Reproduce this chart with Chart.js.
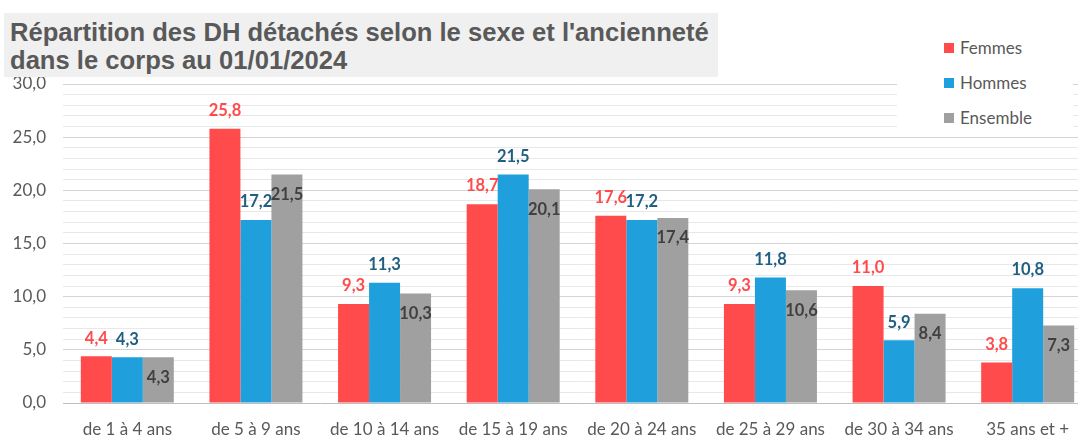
<!DOCTYPE html>
<html lang="fr">

<head>
    <meta charset="UTF-8">
    <title>Répartition des DH détachés</title>
    <script src="https://cdn.jsdelivr.net/npm/chart.js"></script>
    <style>
        body {
            margin: 0;
            overflow: hidden;
            background: #fff;
        }

        .wrap {
            position: relative;
            width: 1092px;
            height: 435px;
        }

        .titre {
            position: absolute;
            left: 4px;
            top: 13px;
            width: 714px;
            height: 64px;
            background: #f0f0f0;
            color: #595959;
            font: bold 25.6px "Liberation Sans", Arial, sans-serif;
            line-height: 28px;
            padding: 5px 0 0 6px;
            box-sizing: border-box;
            white-space: nowrap;
        }

        .legende {
            position: absolute;
            left: 897px;
            top: 20px;
            width: 176px;
            height: 110px;
            background: #fff;
            padding-top: 10px;
            box-sizing: border-box;
        }

        .legende div {
            height: 35px;
            display: flex;
            align-items: center;
            padding-left: 47px;
            color: #595959;
            font: 17px Lato, sans-serif;
        }

        .legende span {
            display: inline-block;
            width: 10px;
            height: 10px;
            margin-right: 6px;
        }
    </style>
</head>

<body>
    <div class="wrap">
        <canvas id="anciennete" width="1092" height="435"></canvas>
        <div class="titre">Répartition des DH détachés selon le sexe et l'ancienneté<br>dans le corps au 01/01/2024</div>
        <div class="legende" id="legende"></div>
    </div>
    <script>
        const categories = ['de 1 à 4 ans', 'de 5 à 9 ans', 'de 10 à 14 ans', 'de 15 à 19 ans',
            'de 20 à 24 ans', 'de 25 à 29 ans', 'de 30 à 34 ans', '35 ans et +'];
        const femmes = [4.4, 25.8, 9.3, 18.7, 17.6, 9.3, 11.0, 3.8];
        const hommes = [4.3, 17.2, 11.3, 21.5, 17.2, 11.8, 5.9, 10.8];
        const ensemble = [4.3, 21.5, 10.3, 20.1, 17.4, 10.6, 8.4, 7.3];
        const seriesNames = ['Femmes', 'Hommes', 'Ensemble'];

        const barColors = ['#ff4b4b', '#1f9fdc', '#a0a0a0'];
        const labelColors = ['#ff4b4b', '#215f82', '#404040'];

        const virgule = v => v.toFixed(1).replace('.', ',');

        // etiquettes de valeurs (pas de plugin datalabels dispo)
        const etiquettes = {
            id: 'etiquettes',
            afterDatasetsDraw(chart) {
                const ctx = chart.ctx;
                ctx.save();
                ctx.font = 'bold 16.5px Lato, sans-serif';
                ctx.textAlign = 'center';
                ctx.textBaseline = 'middle';
                chart.data.datasets.forEach((ds, i) => {
                    const meta = chart.getDatasetMeta(i);
                    meta.data.forEach((bar, j) => {
                        ctx.fillStyle = labelColors[i];
                        const y = i === 2 ? bar.y + 20 : bar.y - 18;
                        ctx.fillText(virgule(ds.data[j]), bar.x, y);
                    });
                });
                ctx.restore();
            }
        };

        const chart = new Chart(
            document.getElementById('anciennete'),
            {
                type: 'bar',
                data: {
                    labels: categories,
                    datasets: [
                        { label: seriesNames[0], data: femmes, backgroundColor: barColors[0] },
                        { label: seriesNames[1], data: hommes, backgroundColor: barColors[1] },
                        { label: seriesNames[2], data: ensemble, backgroundColor: barColors[2] },
                    ]
                },
                options: {
                    responsive: false,
                    animation: false,
                    layout: {
                        padding: { top: 84, left: 0, right: 0, bottom: 0 }
                    },
                    datasets: {
                        bar: {
                            barPercentage: 1.0,
                            categoryPercentage: 0.723,
                        }
                    },
                    plugins: {
                        legend: { display: false },
                        title: { display: false },
                        tooltip: { enabled: false },
                    },
                    scales: {
                        x: {
                            grid: { display: false },
                            border: { display: false },
                            ticks: {
                                color: '#595959',
                                font: { family: 'Lato', size: 17 },
                                padding: 8,
                                maxRotation: 0,
                            },
                            afterFit(scale) { scale.height = 32; }
                        },
                        y: {
                            min: 0,
                            max: 30,
                            border: { display: false },
                            grid: {
                                drawTicks: false,
                                color: ctx => ctx.tick.value === 0 ? '#bfbfbf'
                                    : (ctx.tick.value % 5 === 0 ? '#d4d4d4' : '#e8e8e8'),
                            },
                            ticks: {
                                stepSize: 1,
                                autoSkip: false,
                                color: '#595959',
                                font: { family: 'Lato', size: 17 },
                                padding: 17,
                                callback: v => v % 5 === 0 ? virgule(v) : '',
                            },
                            afterFit(scale) { scale.width = 63; }
                        }
                    }
                },
                plugins: [etiquettes]
            }
        );

        // legende HTML (boite blanche posee sur la grille)
        const legende = document.getElementById('legende');
        chart.data.datasets.forEach(ds => {
            const row = document.createElement('div');
            row.innerHTML = '<span style="background:' + ds.backgroundColor + '"></span>' + ds.label;
            legende.appendChild(row);
        });
    </script>
</body>

</html>
